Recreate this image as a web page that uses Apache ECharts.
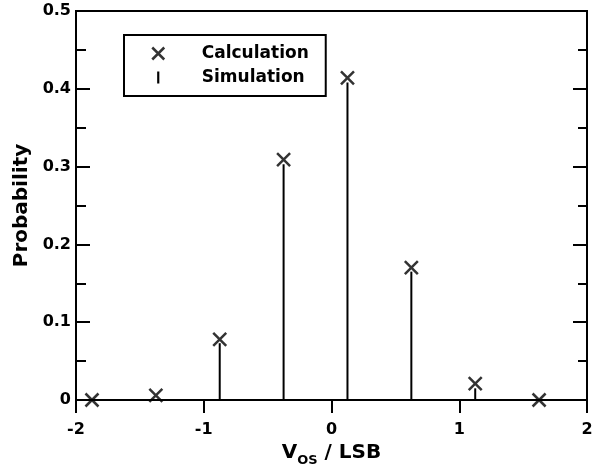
<!DOCTYPE html>
<html>
<head>
<meta charset="utf-8">
<script src="https://cdn.jsdelivr.net/npm/echarts@6/dist/echarts.min.js"></script>
<style>html,body{margin:0;padding:0;background:#fff;}#c{width:608px;height:465px;}</style>
</head>
<body>
<div id="c"></div>
<script>
// x positions (V_OS / LSB)
var xPositions = [-1.875, -1.375, -0.875, -0.375, 0.125, 0.625, 1.125, 1.625];
// Calculation probabilities (× markers)
var calcValues = [0, 0.006, 0.078, 0.309, 0.414, 0.170, 0.021, 0];
// Simulation probabilities (stems)
var simValues = [0, 0, 0.073, 0.303, 0.408, 0.165, 0.015, 0];
// axis ticks
var xTicks = [-2, -1, 0, 1, 2];
var yTicks = [0, 0.1, 0.2, 0.3, 0.4, 0.5];

var FONT = 'DejaVu Sans';
var X_PATH = 'path://M0,0L10,10M10,0L0,10';
var I_PATH = 'path://M0,0L2,0L2,11L0,11Z';

var chart = echarts.init(document.getElementById('c'), null, {renderer: 'canvas'});

var calcData = xPositions.map(function (x, i) { return [x, calcValues[i]]; });
var simData = xPositions.map(function (x, i) { return [x, simValues[i]]; });

var option = {
  animation: false,
  backgroundColor: '#fff',
  grid: {left: 76, top: 11, width: 511, height: 389, containLabel: false, outerBoundsMode: 'none',
    show: true, borderColor: '#000', borderWidth: 2, backgroundColor: 'transparent'},
  legend: {
    orient: 'vertical',
    left: 124, top: 35,
    padding: [10, 17, 10, 27],
    itemGap: 7,
    itemWidth: 13, itemHeight: 12,
    borderColor: '#000', borderWidth: 2,
    backgroundColor: '#fff',
    textStyle: {fontFamily: FONT, fontWeight: 'bold', fontSize: 17, color: '#000', padding: [0, 0, 0, 32]},
    data: [
      {name: 'Calculation', icon: X_PATH, itemStyle: {color: 'transparent', borderColor: '#000', borderWidth: 2.5}},
      {name: 'Simulation', icon: I_PATH, itemStyle: {color: '#000', borderWidth: 0}}
    ]
  },
  xAxis: [{
    type: 'value', min: xTicks[0], max: xTicks[xTicks.length - 1], interval: 1,
    name: '{a|V}{b|OS}{a| / LSB}',
    nameLocation: 'middle', nameGap: 36,
    nameTextStyle: {
      rich: {
        a: {fontFamily: FONT, fontWeight: 'bold', fontSize: 20, color: '#000', lineHeight: 24, verticalAlign: 'top'},
        b: {fontFamily: FONT, fontWeight: 'bold', fontSize: 13, color: '#000', lineHeight: 24, verticalAlign: 'bottom', padding: [10, 0, 0, 0]}
      }
    },
    axisLine: {show: true, onZero: false, lineStyle: {color: '#000', width: 2}},
    axisTick: {show: true, inside: false, length: 13, lineStyle: {color: '#000', width: 2}},
    minorTick: {show: false},
    splitLine: {show: false},
    axisLabel: {margin: 22, fontFamily: FONT, fontWeight: 'bold', fontSize: 16, color: '#000'}
  }],
  yAxis: [{
    type: 'value', min: yTicks[0], max: yTicks[yTicks.length - 1], interval: 0.1,
    name: 'Probability', nameLocation: 'middle', nameGap: 44, nameRotate: 90, nameMoveOverlap: false,
    nameTextStyle: {fontFamily: FONT, fontWeight: 'bold', fontSize: 20, color: '#000', padding: [10, 0, 0, 0]},
    axisLine: {show: true, onZero: false, lineStyle: {color: '#000', width: 2}},
    axisTick: {show: true, inside: true, length: 14, lineStyle: {color: '#000', width: 2}},
    minorTick: {show: true, splitNumber: 2, length: 10, lineStyle: {color: '#000', width: 2}},
    splitLine: {show: false},
    axisLabel: {margin: 5, fontFamily: FONT, fontWeight: 'bold', fontSize: 16, color: '#000',
      formatter: function (v) { return v === 0 ? '0' : v.toFixed(1); }}
  }, {
    type: 'value', position: 'right', min: yTicks[0], max: yTicks[yTicks.length - 1], interval: 0.1,
    axisLine: {show: true, onZero: false, lineStyle: {color: '#000', width: 2}},
    axisTick: {show: true, inside: true, length: 14, lineStyle: {color: '#000', width: 2}},
    minorTick: {show: true, splitNumber: 2, length: 9, lineStyle: {color: '#000', width: 2}},
    splitLine: {show: false},
    axisLabel: {show: false}
  }],
  series: [{
    name: 'Simulation',
    type: 'custom',
    xAxisIndex: 0, yAxisIndex: 0,
    data: simData,
    renderItem: function (params, api) {
      var p0 = api.coord([api.value(0), 0]);
      var p1 = api.coord([api.value(0), api.value(1)]);
      return {type: 'line', shape: {x1: p0[0], y1: p0[1], x2: p1[0], y2: p1[1]},
        style: {stroke: '#000', lineWidth: 2}};
    },
    encode: {x: 0, y: 1},
    z: 3
  }, {
    name: 'Calculation',
    type: 'scatter',
    xAxisIndex: 0, yAxisIndex: 0,
    data: calcData,
    symbol: X_PATH,
    symbolSize: 13,
    itemStyle: {color: 'transparent', borderColor: '#000', borderWidth: 2.5},
    z: 4
  }]
};
chart.setOption(option);
</script>
</body>
</html>
